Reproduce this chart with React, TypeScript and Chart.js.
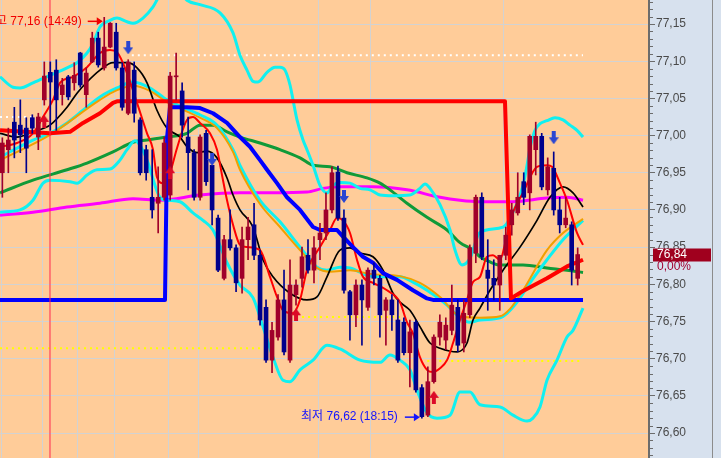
import React, { useEffect, useRef } from "react";
import { Chart, registerables } from "chart.js";

Chart.register(...registerables);

// ---------------- data ----------------
const candleOpen = [76.950, 76.981, 77.018, 77.014, 77.010, 77.024, 76.998, 77.048, 77.085, 77.088, 77.055, 77.079, 77.071, 77.111, 77.055, 77.099, 77.131, 77.091, 77.119, 77.139, 77.091, 77.030, 77.088, 77.021, 76.981, 76.917, 76.909, 76.917, 76.920, 77.079, 77.060, 76.998, 76.977, 76.917, 77.003, 76.960, 76.889, 76.808, 76.860, 76.849, 76.808, 76.860, 76.880, 76.839, 76.769, 76.698, 76.729, 76.779, 76.698, 76.786, 76.808, 76.839, 76.819, 76.860, 76.869, 76.900, 76.951, 76.889, 76.790, 76.759, 76.799, 76.769, 76.819, 76.808, 76.765, 76.779, 76.752, 76.749, 76.708, 76.749, 76.661, 76.624, 76.669, 76.729, 76.725, 76.738, 76.769, 76.721, 76.759, 76.842, 76.917, 76.819, 76.808, 76.799, 76.839, 76.880, 76.896, 76.938, 76.923, 76.981, 76.999, 76.927, 76.956, 76.900, 76.880, 76.880, 76.808];
const candleHigh = [76.997, 77.010, 77.038, 77.048, 77.024, 77.028, 77.030, 77.099, 77.099, 77.102, 77.077, 77.081, 77.098, 77.112, 77.091, 77.139, 77.139, 77.159, 77.152, 77.151, 77.098, 77.102, 77.099, 77.024, 76.987, 76.981, 76.958, 76.998, 77.085, 77.111, 77.071, 77.025, 76.981, 77.001, 77.007, 76.960, 76.893, 76.866, 76.900, 76.853, 76.877, 76.890, 76.909, 76.846, 76.779, 76.749, 76.786, 76.819, 76.833, 76.806, 76.850, 76.860, 76.864, 76.882, 76.923, 76.958, 76.959, 76.900, 76.792, 76.806, 76.806, 76.822, 76.829, 76.812, 76.782, 76.786, 76.779, 76.755, 76.752, 76.752, 76.665, 76.689, 76.732, 76.759, 76.755, 76.799, 76.779, 76.779, 76.853, 76.920, 76.923, 76.860, 76.833, 76.839, 76.877, 76.909, 76.950, 76.950, 77.001, 77.018, 77.003, 76.970, 76.978, 76.917, 76.917, 76.884, 76.849];
const candleLow = [76.917, 76.950, 76.970, 76.977, 76.950, 77.003, 76.981, 77.041, 77.007, 77.007, 77.041, 77.048, 77.061, 77.065, 77.038, 77.098, 77.092, 77.088, 77.118, 77.088, 77.034, 77.028, 77.018, 76.947, 76.940, 76.889, 76.869, 76.913, 76.913, 77.048, 76.998, 76.927, 76.913, 76.913, 76.933, 76.880, 76.817, 76.806, 76.846, 76.790, 76.788, 76.833, 76.833, 76.745, 76.695, 76.681, 76.725, 76.705, 76.695, 76.772, 76.796, 76.815, 76.802, 76.833, 76.860, 76.896, 76.886, 76.788, 76.725, 76.743, 76.718, 76.765, 76.799, 76.729, 76.718, 76.738, 76.695, 76.705, 76.662, 76.655, 76.620, 76.622, 76.667, 76.718, 76.712, 76.732, 76.709, 76.709, 76.755, 76.829, 76.833, 76.765, 76.779, 76.765, 76.833, 76.866, 76.893, 76.907, 76.900, 76.947, 76.927, 76.920, 76.893, 76.869, 76.876, 76.799, 76.799];
const candleClose = [76.990, 76.994, 76.994, 77.001, 76.983, 77.010, 77.025, 77.080, 77.072, 77.048, 77.068, 77.052, 77.081, 77.068, 77.084, 77.131, 77.095, 77.119, 77.151, 77.091, 77.038, 77.099, 77.030, 76.950, 76.950, 76.900, 76.917, 76.990, 77.080, 77.080, 77.014, 76.977, 76.917, 76.998, 76.938, 76.900, 76.819, 76.860, 76.849, 76.802, 76.860, 76.877, 76.839, 76.752, 76.698, 76.738, 76.779, 76.709, 76.799, 76.799, 76.837, 76.819, 76.849, 76.869, 76.900, 76.950, 76.889, 76.792, 76.759, 76.799, 76.779, 76.819, 76.808, 76.759, 76.779, 76.759, 76.698, 76.708, 76.736, 76.658, 76.622, 76.669, 76.729, 76.749, 76.745, 76.772, 76.718, 76.761, 76.849, 76.917, 76.837, 76.808, 76.799, 76.839, 76.866, 76.900, 76.917, 76.917, 76.999, 76.999, 76.931, 76.958, 76.900, 76.880, 76.889, 76.819, 76.840];

const highTime = "14:49";
const lowTime = "18:15";
const changeText = "0,00%";

// time grid (in bar-index units) and session marker
const timeGridLines = [-0.22, 6.78, 12.62, 18.68, 27.69, 32.7, 52.67, 61.51, 83.54];
const sessionLine = 7.95;

const bbUpper = [[-0.39,77.079],[1.78,77.065],[2.95,77.064],[5.11,77.071],[7.95,77.081],[10.79,77.091],[12.46,77.098],[14.13,77.111],[15.13,77.124],[16.29,77.146],[17.96,77.155],[19.13,77.158],[20.8,77.153],[21.8,77.151],[23.47,77.158],[25.14,77.173],[26.3,77.189],[27.97,77.198],[29.64,77.193],[30.8,77.182],[32.98,77.176],[36.32,77.165],[38.49,77.138],[39.65,77.108],[40.82,77.088],[41.82,77.073],[42.66,77.072],[44.16,77.085],[45.5,77.092],[46.33,77.092],[47.16,77.088],[48.0,77.068],[48.5,77.048],[49.17,77.021],[50.17,76.994],[50.83,76.981],[51.84,76.96],[53.0,76.933],[54.17,76.923],[55.17,76.933],[56.34,76.937],[58.01,76.936],[59.67,76.929],[61.34,76.927],[63.01,76.92],[65.18,76.919],[68.01,76.92],[69.68,76.929],[70.52,76.935],[71.36,76.929],[73.03,76.907],[74.7,76.873],[75.53,76.846],[76.7,76.826],[78.03,76.835],[79.7,76.87],[83.54,76.877],[85.88,76.909],[86.88,76.933],[87.55,76.96],[88.04,76.983],[88.88,77.007],[89.71,77.016],[90.88,77.02],[92.21,77.024],[93.55,77.021],[94.72,77.014],[95.89,77.007],[96.89,76.998]];
const bbMiddle = [[-0.39,76.971],[5.11,76.994],[7.95,77.003],[10.79,77.017],[13.46,77.034],[16.29,77.052],[19.13,77.064],[21.8,77.072],[24.64,77.064],[27.47,77.048],[30.14,77.038],[32.98,77.028],[35.82,77.014],[38.49,76.981],[39.65,76.96],[42.99,76.913],[46.33,76.884],[49.67,76.85],[52.5,76.823],[54.17,76.819],[56.34,76.823],[58.01,76.822],[60.84,76.812],[63.01,76.81],[66.34,76.81],[68.51,76.803],[70.86,76.792],[74.2,76.772],[76.36,76.755],[78.03,76.749],[79.7,76.752],[83.04,76.755],[84.21,76.761],[85.88,76.776],[88.04,76.802],[90.88,76.833],[93.55,76.86],[96.89,76.886]];
const bbLower = [[-0.39,76.897],[2.95,76.9],[5.11,76.913],[6.78,76.936],[7.95,76.94],[11.29,76.938],[12.46,76.936],[14.13,76.947],[15.79,76.954],[17.96,76.955],[19.63,76.967],[20.8,76.981],[22.13,76.993],[22.97,76.987],[24.14,76.967],[26.3,76.917],[27.47,76.913],[29.64,76.911],[31.81,76.896],[33.48,76.886],[35.15,76.873],[37.49,76.829],[39.65,76.799],[41.82,76.782],[43.49,76.743],[45.16,76.702],[46.83,76.671],[48.0,76.669],[49.67,76.685],[51.84,76.698],[54.17,76.718],[56.34,76.713],[59.67,76.698],[63.01,76.695],[64.68,76.705],[66.34,76.698],[68.01,76.685],[69.18,76.658],[70.86,76.627],[72.53,76.62],[74.7,76.624],[76.36,76.655],[78.03,76.655],[79.7,76.638],[83.04,76.635],[85.21,76.624],[87.55,76.616],[88.54,76.62],[89.71,76.635],[90.88,76.671],[92.55,76.698],[94.22,76.729],[95.22,76.738],[96.89,76.768]];
const maOrange = [[-0.39,76.967],[7.95,77.001],[16.29,77.048],[19.13,77.061],[21.8,77.067],[24.64,77.06],[27.47,77.045],[32.98,77.024],[35.82,77.01],[38.49,76.978],[39.65,76.954],[42.99,76.908],[46.33,76.877],[49.67,76.846],[52.5,76.822],[54.67,76.817],[58.01,76.819],[61.34,76.814],[66.34,76.811],[69.68,76.802],[73.03,76.783],[76.36,76.757],[79.7,76.755],[83.04,76.757],[84.71,76.767],[86.88,76.792],[90.88,76.846],[93.55,76.869],[96.89,76.888]];
const maBlack = [[-0.39,77.003],[2.44,76.998],[5.11,77.005],[7.95,77.014],[10.79,77.038],[12.46,77.057],[14.13,77.072],[16.29,77.088],[18.46,77.098],[20.8,77.098],[22.47,77.091],[24.14,77.071],[25.8,77.034],[27.47,77.01],[29.64,76.998],[30.8,76.985],[32.48,76.977],[34.15,76.979],[35.82,76.97],[37.49,76.943],[38.49,76.92],[39.65,76.9],[41.82,76.877],[43.49,76.833],[45.16,76.81],[48.0,76.788],[50.83,76.779],[52.5,76.783],[54.17,76.81],[56.34,76.846],[58.01,76.849],[59.67,76.842],[61.84,76.837],[63.51,76.819],[65.18,76.788],[66.34,76.776],[68.01,76.765],[69.68,76.743],[71.36,76.721],[73.03,76.714],[75.86,76.709],[77.53,76.721],[78.53,76.752],[79.7,76.768],[81.37,76.792],[83.54,76.819],[86.38,76.85],[89.21,76.886],[91.38,76.917],[93.55,76.931],[95.22,76.923],[96.89,76.904]];
const maFast = [[-0.39,76.985],[2.44,76.99],[5.11,77.003],[6.78,77.025],[8.45,77.048],[9.62,77.071],[11.79,77.079],[14.13,77.092],[16.29,77.111],[17.96,77.115],[19.13,77.112],[20.8,77.084],[22.47,77.044],[24.14,77.003],[25.14,76.981],[25.8,76.944],[26.81,76.936],[27.97,76.95],[29.14,76.983],[30.8,77.021],[31.81,77.025],[32.98,77.017],[34.65,77.003],[35.82,76.981],[36.65,76.947],[37.49,76.913],[38.49,76.88],[39.65,76.853],[40.82,76.85],[42.99,76.846],[44.66,76.81],[45.83,76.783],[46.83,76.765],[48.5,76.761],[49.67,76.779],[50.83,76.819],[53.0,76.85],[54.67,76.873],[55.84,76.889],[56.84,76.886],[58.01,76.869],[59.17,76.833],[60.17,76.81],[61.84,76.802],[64.18,76.792],[66.34,76.776],[67.51,76.749],[68.51,76.734],[69.68,76.702],[70.86,76.685],[71.86,76.682],[73.03,76.687],[74.2,76.698],[75.2,76.721],[76.36,76.752],[77.53,76.779],[78.53,76.803],[79.7,76.81],[80.87,76.837],[81.87,76.839],[83.04,76.833],[84.04,76.86],[85.04,76.893],[86.88,76.923],[89.21,76.958],[90.88,76.96],[91.72,76.958],[93.05,76.936],[94.22,76.913],[95.89,76.869],[96.89,76.853]];
const stepRed = [[-0.39,77.007],[7.95,77.003],[11.29,77.005],[13.46,77.017],[16.29,77.03],[18.46,77.044],[19.13,77.046],[83.87,77.046],[84.87,76.781],[86.88,76.791],[90.88,76.808],[94.22,76.824],[96.89,76.833]];
const stepBlue = [[-0.39,76.779],[27.14,76.779],[27.5,76.998],[27.97,77.038],[30.8,77.038],[32.98,77.037],[35.15,77.03],[37.49,77.017],[39.65,76.998],[41.32,76.985],[42.99,76.967],[44.16,76.954],[45.83,76.936],[47.5,76.917],[49.67,76.9],[51.84,76.877],[53.0,76.873],[55.84,76.873],[56.84,76.864],[58.51,76.85],[60.17,76.837],[61.84,76.829],[63.51,76.815],[65.85,76.806],[68.51,76.792],[70.86,76.781],[71.86,76.779],[96.89,76.779]];
const maGreen = [[-0.39,76.923],[5.11,76.94],[10.79,76.954],[14.13,76.963],[18.46,76.978],[21.8,76.991],[24.14,76.994],[27.47,76.998],[30.8,77.003],[32.98,77.014],[35.15,77.014],[37.49,77.005],[39.65,76.998],[42.99,76.99],[46.33,76.981],[49.67,76.97],[51.84,76.96],[54.67,76.958],[57.51,76.95],[60.84,76.943],[63.01,76.936],[64.68,76.927],[67.51,76.909],[70.86,76.89],[74.2,76.873],[76.36,76.856],[78.53,76.846],[79.7,76.837],[81.37,76.83],[83.04,76.826],[86.88,76.826],[90.88,76.822],[94.22,76.819],[96.89,76.816]];
const maMagenta = [[-0.39,76.893],[5.11,76.897],[10.79,76.904],[16.29,76.909],[21.8,76.915],[26.3,76.913],[32.98,76.92],[39.65,76.923],[45.16,76.923],[50.83,76.924],[53.5,76.929],[56.34,76.931],[61.84,76.931],[67.51,76.927],[73.03,76.917],[76.36,76.913],[79.7,76.911],[85.21,76.911],[90.88,76.916],[94.22,76.917],[96.89,76.913]];

const whiteLevels = [[-0.39, 5.11, 77.025], [21.6, 96.89, 77.108]];
const yellowLevels = [[-0.39, 43.0, 76.714], [47.0, 67.0, 76.756], [70.9, 96.89, 76.697]];

const buySignals = [[7, 77.019], [28, 76.950], [49, 76.759], [72, 76.648]];
const sellSignals = [[21, 77.118], [35, 76.968], [57, 76.918], [92, 76.997]];

// ---------------- styling ----------------
const Y_MIN = 76.5664;
const Y_MAX = 77.1823;
const X_MIN = -0.392;
const X_MAX = 107.9;

const PEACH = "#FFCC99";
const PANEL = "#D7E1EE";
const GRID = "#D2D2D2";
const AXIS = "#6C6C6C";
const UP = "#A0002A";
const DOWN = "#00008C";
const FONT = "'Liberation Sans', 'Noto Sans CJK KR', Arial, sans-serif";

const isMajor = (v: number) => Math.round(v * 100) % 5 === 0;
const fmt = (v: number) => v.toFixed(2).replace(".", ",");

function makeArrow(color: string, down: boolean) {
  const c = document.createElement("canvas");
  c.width = 10;
  c.height = 13;
  const g = c.getContext("2d")!;
  g.fillStyle = color;
  g.beginPath();
  if (down) {
    g.rect(3, 0, 4, 6);
    g.moveTo(0, 6);
    g.lineTo(10, 6);
    g.lineTo(5, 13);
  } else {
    g.moveTo(5, 0);
    g.lineTo(10, 7);
    g.lineTo(0, 7);
    g.closePath();
    g.rect(3, 7, 4, 6);
  }
  g.fill();
  return c;
}

function lineDs(pts: number[][], color: string, width: number, order: number, smooth = true, dash?: number[]) {
  return {
    type: "line" as const,
    data: pts.map(([x, y]) => ({ x, y })),
    borderColor: color,
    backgroundColor: color,
    borderWidth: width,
    pointRadius: 0,
    pointHoverRadius: 0,
    fill: false,
    order,
    tension: smooth ? 0.4 : 0,
    cubicInterpolationMode: smooth ? "monotone" : "default",
    borderDash: dash || [],
    borderCapStyle: "butt",
    borderJoinStyle: "round",
  };
}

export default function App() {
  const ref = useRef<HTMLCanvasElement>(null);

  useEffect(() => {
    document.body.style.margin = "0";
    const canvas = ref.current!;
    const upArrow = makeArrow("#DC0A28", false);
    const downArrow = makeArrow("#2A46D2", true);

    const colors = candleOpen.map((o, i) => (candleClose[i] >= o ? UP : DOWN));

    const hiIdx = candleHigh.indexOf(Math.max(...candleHigh));
    const loIdx = candleLow.indexOf(Math.min(...candleLow));
    const lastClose = candleClose[candleClose.length - 1];

    const bgPlugin = {
      id: "bg",
      beforeDraw(chart: any) {
        const { ctx, chartArea: a, width, height } = chart;
        ctx.save();
        ctx.fillStyle = PANEL;
        ctx.fillRect(0, 0, width, height);
        ctx.fillStyle = PEACH;
        ctx.fillRect(a.left, a.top, a.right - a.left, a.bottom - a.top);
        ctx.fillStyle = "#8C8C8C";
        ctx.fillRect(712, 0, 1, height);
        ctx.restore();
      },
      afterDatasetsDraw(chart: any) {
        const { ctx } = chart;
        const xs = chart.scales.x;
        const ys = chart.scales.y;
        ctx.save();
        ctx.font = `12px ${FONT}`;
        ctx.textBaseline = "middle";
        ctx.textAlign = "right";
        const drawPointer = (xTip: number, y: number, color: string) => {
          ctx.strokeStyle = color;
          ctx.fillStyle = color;
          ctx.lineWidth = 1.5;
          ctx.beginPath();
          ctx.moveTo(xTip - 15, y);
          ctx.lineTo(xTip - 5, y);
          ctx.stroke();
          ctx.beginPath();
          ctx.moveTo(xTip, y);
          ctx.lineTo(xTip - 6, y - 4);
          ctx.lineTo(xTip - 6, y + 4);
          ctx.closePath();
          ctx.fill();
        };
        // high
        const hx = xs.getPixelForValue(hiIdx) - 1.5;
        const hy = ys.getPixelForValue(candleHigh[hiIdx]) + 4;
        ctx.fillStyle = "#F00000";
        ctx.fillText(`최고 ${fmt(candleHigh[hiIdx])} (${highTime})`, hx - 21, hy);
        drawPointer(hx, hy, "#F00000");
        // low
        const lx = xs.getPixelForValue(loIdx) - 2;
        const ly = ys.getPixelForValue(candleLow[loIdx]) - 1;
        ctx.fillStyle = "#1414FF";
        ctx.fillText(`최저 ${fmt(candleLow[loIdx])} (${lowTime})`, lx - 22, ly);
        drawPointer(lx, ly, "#1414FF");
        ctx.restore();
      },
      afterDraw(chart: any) {
        const { ctx } = chart;
        const ys = chart.scales.y;
        ctx.save();
        // minor ticks
        ctx.strokeStyle = AXIS;
        ctx.lineWidth = 1;
        ys.ticks.forEach((t: any) => {
          if (!isMajor(t.value)) {
            const y = Math.round(ys.getPixelForValue(t.value)) + 0.5;
            ctx.beginPath();
            ctx.moveTo(ys.left + 1, y);
            ctx.lineTo(ys.left + 4, y);
            ctx.stroke();
          }
        });
        // current price box
        const py = Math.round(ys.getPixelForValue(lastClose));
        ctx.fillStyle = "#A0001E";
        ctx.fillRect(653, py - 6.5, 58, 13);
        ctx.font = `12px ${FONT}`;
        ctx.textBaseline = "middle";
        ctx.textAlign = "left";
        ctx.fillStyle = "#FFFFFF";
        ctx.fillText(fmt(lastClose), 657, py);
        ctx.fillStyle = "#A00030";
        ctx.fillText(changeText, 657, py + 12);
        ctx.restore();
      },
    };

    const datasets: any[] = [
      {
        type: "scatter",
        data: buySignals.map(([x, y]) => ({ x, y })),
        pointStyle: upArrow,
        pointRadius: 5,
        order: 0,
      },
      {
        type: "scatter",
        data: sellSignals.map(([x, y]) => ({ x, y })),
        pointStyle: downArrow,
        pointRadius: 5,
        order: 0,
      },
      {
        type: "bar",
        data: candleOpen.map((o, i) => ({ x: i, y: [o, candleClose[i]] })),
        backgroundColor: colors,
        borderWidth: 0,
        barThickness: 4,
        minBarLength: 1,
        grouped: false,
        order: 1,
      },
      {
        type: "bar",
        data: candleLow.map((l, i) => ({ x: i, y: [l, candleHigh[i]] })),
        backgroundColor: colors,
        borderWidth: 0,
        barThickness: 1,
        grouped: false,
        order: 2,
      },
      lineDs([[sessionLine, Y_MIN], [sessionLine, Y_MAX]], "#FF2850", 1, 3, false),
      lineDs(stepRed, "#FF0000", 4, 4, false),
      lineDs(stepBlue, "#0000FF", 4, 5, false),
      lineDs(maFast, "#FF0000", 2, 6),
      lineDs(maBlack, "#000000", 1.7, 7),
      lineDs(maOrange, "#F0A000", 2, 8),
      lineDs(bbMiddle, "#10F0F0", 3, 9),
      lineDs(bbUpper, "#10F0F0", 3, 10),
      lineDs(bbLower, "#10F0F0", 3, 11),
      lineDs(maGreen, "#109A38", 3, 12),
      lineDs(maMagenta, "#FF00FF", 3, 13),
      ...whiteLevels.map(([a, b, v]) => lineDs([[a, v], [b, v]], "#FFFFFF", 2, 20, false, [2, 4])),
      ...yellowLevels.map(([a, b, v]) => lineDs([[a, v], [b, v]], "#FFFF00", 2, 20, false, [2, 4])),
    ];

    const chart = new Chart(canvas, {
      type: "bar",
      data: { datasets },
      plugins: [bgPlugin],
      options: {
        animation: false,
        responsive: false,
        devicePixelRatio: 1,
        events: [],
        layout: { padding: 0, autoPadding: false },
        plugins: { legend: { display: false }, tooltip: { enabled: false } },
        scales: {
          x: {
            type: "linear",
            min: X_MIN,
            max: X_MAX,
            bounds: "data",
            offset: false,
            afterBuildTicks: (s: any) => {
              s.ticks = timeGridLines.map((v) => ({ value: v }));
            },
            afterFit: (s: any) => {
              s.height = 0;
              s.paddingLeft = 0;
              s.paddingRight = 0;
            },
            ticks: { display: false },
            grid: { color: GRID, lineWidth: 1, drawTicks: false, offset: false },
            border: { display: false },
          },
          y: {
            type: "linear",
            position: "right",
            min: Y_MIN,
            max: Y_MAX,
            bounds: "data",
            afterBuildTicks: (s: any) => {
              const t: any[] = [];
              for (let k = Math.ceil(Y_MIN * 100); k <= Math.floor(Y_MAX * 100); k++) t.push({ value: k / 100 });
              s.ticks = t;
            },
            afterFit: (s: any) => {
              s.width = 72;
              s.paddingTop = 0;
              s.paddingBottom = 0;
            },
            ticks: {
              autoSkip: false,
              padding: 1,
              color: "#4A4A4A",
              font: { family: FONT, size: 12 },
              callback: (v: any) => (isMajor(Number(v)) ? fmt(Number(v)) : ""),
            },
            grid: {
              color: (c: any) => (c.tick && isMajor(c.tick.value) ? GRID : "rgba(0,0,0,0)"),
              lineWidth: 1,
              tickLength: 6,
              tickWidth: 1,
              tickColor: (c: any) => (c.tick && isMajor(c.tick.value) ? AXIS : "rgba(0,0,0,0)"),
            },
            border: { display: true, color: AXIS, width: 2 },
          },
        },
      } as any,
    } as any);

    return () => chart.destroy();
  }, []);

  return (
    <div style={{ position: "fixed", left: 0, top: 0, width: 721, height: 458 }}>
      <canvas ref={ref} width={721} height={458} style={{ display: "block" }} />
    </div>
  );
}
